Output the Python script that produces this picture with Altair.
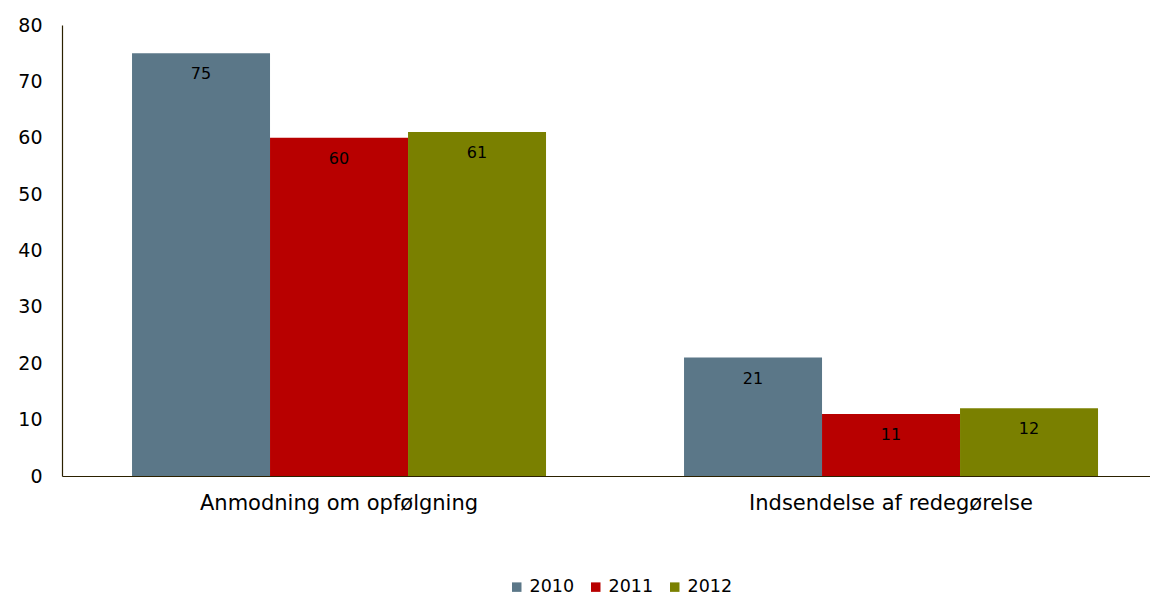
import altair as alt
import pandas as pd

categories = ["Anmodning om opfølgning", "Indsendelse af redegørelse"]
years = ["2010", "2011", "2012"]
values_2010 = [75, 21]
values_2011 = [60, 11]
values_2012 = [61, 12]
colors = ["#5B7788", "#B80000", "#7A8000"]

rows = []
for yr, vals in zip(years, [values_2010, values_2011, values_2012]):
    for c, v in zip(categories, vals):
        rows.append({"Kategori": c, "År": yr, "Antal": v})
df = pd.DataFrame(rows)

FONT = "DejaVu Sans"

base = alt.Chart(df).encode(
    x=alt.X("Kategori:N", sort=categories, title=None,
            scale=alt.Scale(paddingInner=0.25, paddingOuter=0.1105, align=0.574),
            axis=alt.Axis(labelAngle=0, labelFontSize=21, labelColor="#000000",
                          labelFont=FONT, labelPadding=16, ticks=False, labelLimit=0,
                          domainColor="#2B2100", domainWidth=1.2)),
    xOffset=alt.XOffset("År:N", sort=years),
    y=alt.Y("Antal:Q", title=None,
            scale=alt.Scale(domain=[0, 80]),
            axis=alt.Axis(values=list(range(0, 81, 10)), grid=False, ticks=False,
                          labelFontSize=19, labelColor="#000000", labelFont=FONT,
                          labelPadding=20, domainColor="#2B2100", domainWidth=1.2)),
)

bars = base.mark_bar().encode(
    color=alt.Color("År:N", sort=years,
                    scale=alt.Scale(domain=years, range=colors),
                    legend=alt.Legend(title=None, orient="none", direction="horizontal",
                                      legendX=446, legendY=553,
                                      symbolType="square", symbolSize=90, symbolStrokeWidth=0,
                                      labelFontSize=17.5, labelFont=FONT, labelColor="#000000",
                                      columnPadding=12, labelOffset=4))
)

labels = base.mark_text(baseline="middle", dy=21, fontSize=16, font=FONT, color="#000000").encode(
    text=alt.Text("Antal:Q")
)

chart = alt.layer(bars, labels).properties(
    width=1088, height=451,
    autosize=alt.AutoSizeParams(type="none"),
    padding={"left": 54, "top": 17, "right": 0, "bottom": 119},
    background="#FFFFFF",
).configure_view(strokeWidth=0)

chart.save("out.html", embed_options={"renderer": "svg", "actions": False})
